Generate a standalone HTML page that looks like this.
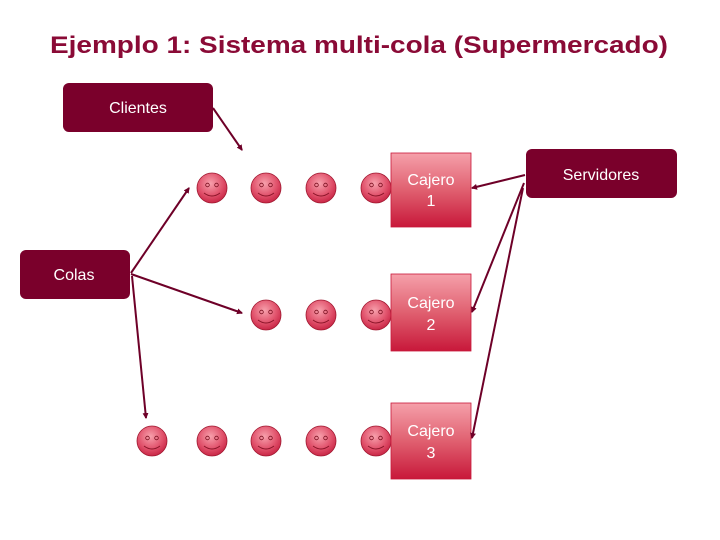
<!DOCTYPE html>
<html><head><meta charset="utf-8"><style>
html,body{margin:0;padding:0;background:#fff;width:720px;height:540px;overflow:hidden}
svg{display:block}
text{font-family:"Liberation Sans",Arial,sans-serif}
</style></head><body>
<svg width="720" height="540" viewBox="0 0 720 540" xmlns="http://www.w3.org/2000/svg">
<defs>
<radialGradient id="face" cx="0.45" cy="0.35" r="0.7">
<stop offset="0" stop-color="#f7a0ac"/><stop offset="0.6" stop-color="#e0506a"/><stop offset="1" stop-color="#c41e3f"/>
</radialGradient>
<linearGradient id="box" x1="0" y1="0" x2="0" y2="1">
<stop offset="0" stop-color="#f5a0aa"/><stop offset="0.5" stop-color="#e06070"/><stop offset="1" stop-color="#c8183a"/>
</linearGradient>
<g id="smile">
<circle r="15" fill="url(#face)" stroke="#a01830" stroke-width="0.8"/>
<circle cx="-4.5" cy="-3" r="1.8" fill="none" stroke="#7a1020" stroke-width="0.8"/>
<circle cx="4.5" cy="-3" r="1.8" fill="none" stroke="#7a1020" stroke-width="0.8"/>
<path d="M-8 5 Q0 11 8 5" fill="none" stroke="#8a1428" stroke-width="0.9"/>
</g>
<marker id="ar" markerWidth="6" markerHeight="6" refX="5" refY="3" orient="auto" markerUnits="userSpaceOnUse">
<path d="M0 0 L6 3 L0 6 z" fill="#6e0028"/>
</marker>
</defs>
<text x="359" y="53" text-anchor="middle" font-size="24" font-weight="bold" fill="#8a0a36" textLength="618" lengthAdjust="spacingAndGlyphs">Ejemplo 1: Sistema multi-cola (Supermercado)</text>

<rect x="63" y="83" width="150" height="49" rx="6" fill="#7a002b"/>
<text x="138" y="113" text-anchor="middle" font-size="16" fill="#fff">Clientes</text>
<rect x="20" y="250" width="110" height="49" rx="6" fill="#7a002b"/>
<text x="74" y="280" text-anchor="middle" font-size="16" fill="#fff">Colas</text>
<rect x="526" y="149" width="151" height="49" rx="6" fill="#7a002b"/>
<text x="601" y="180" text-anchor="middle" font-size="16" fill="#fff">Servidores</text>

<use href="#smile" x="212" y="188"/><use href="#smile" x="266" y="188"/><use href="#smile" x="321" y="188"/><use href="#smile" x="376" y="188"/>
<use href="#smile" x="266" y="315"/><use href="#smile" x="321" y="315"/><use href="#smile" x="376" y="315"/>
<use href="#smile" x="152" y="441"/><use href="#smile" x="212" y="441"/><use href="#smile" x="266" y="441"/><use href="#smile" x="321" y="441"/><use href="#smile" x="376" y="441"/>

<g stroke="#c8183a" stroke-width="0.8">
<rect x="391" y="153" width="80" height="74" fill="url(#box)"/>
<rect x="391" y="274" width="80" height="77" fill="url(#box)"/>
<rect x="391" y="403" width="80" height="76" fill="url(#box)"/>
</g>
<g font-size="16" fill="#fff" text-anchor="middle">
<text x="431" y="185">Cajero</text><text x="431" y="206">1</text>
<text x="431" y="308">Cajero</text><text x="431" y="330">2</text>
<text x="431" y="436">Cajero</text><text x="431" y="458">3</text>
</g>

<g stroke="#6e0028" stroke-width="2" fill="none" marker-end="url(#ar)">
<line x1="213" y1="108" x2="242" y2="150"/>
<line x1="131" y1="273" x2="189" y2="188"/>
<line x1="131" y1="274" x2="242" y2="313"/>
<line x1="132" y1="276" x2="146" y2="418"/>
<line x1="525" y1="175" x2="472" y2="188"/>
<line x1="524" y1="183" x2="472" y2="312"/>
<line x1="523" y1="188" x2="472" y2="438"/>
</g>
</svg>
</body></html>
